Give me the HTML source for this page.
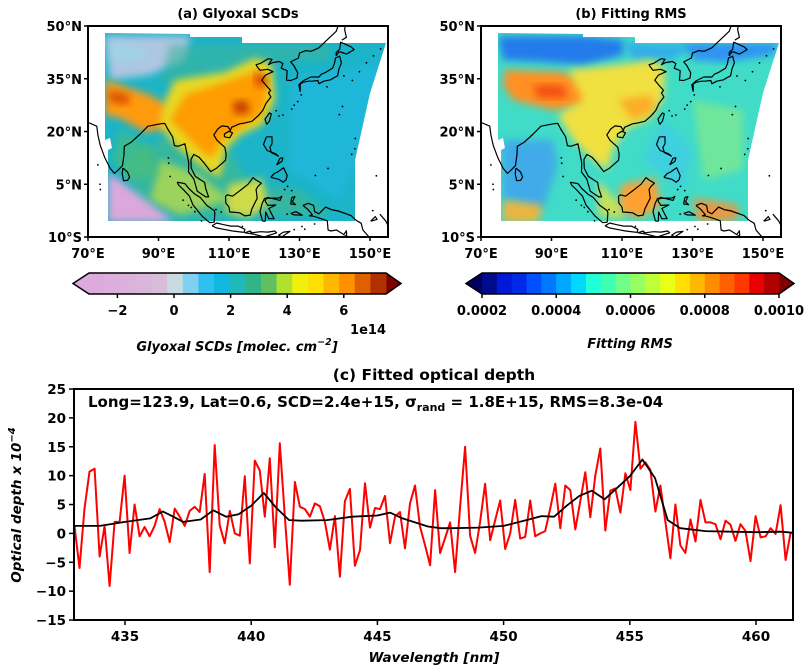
<!DOCTYPE html>
<html><head><meta charset="utf-8">
<style>
html,body{margin:0;padding:0;background:#fff;}
svg{display:block;font-family:"DejaVu Sans","Liberation Sans",sans-serif;}
text{font-weight:bold;}
</style></head>
<body>
<svg id="fig" width="812" height="671" viewBox="0 0 812 671" xmlns="http://www.w3.org/2000/svg">
<defs>
<filter id="blur" x="-20%" y="-20%" width="140%" height="140%"><feGaussianBlur stdDeviation="4"/></filter>
<clipPath id="clipL"><polygon points="105,33 190,34 190,37 242,37 242,43 386,43 370,93 355,160 355,221 108,221 108,150 112,148 110,138 105,140"/></clipPath>
<clipPath id="clipR"><polygon points="498,33 583,34 583,37 635,37 635,43 779,43 763,93 748,160 748,221 501,221 501,150 505,148 503,138 498,140"/></clipPath>
</defs>
<g id="mapL"></g>
<g id="mapR"></g>
<g id="cbars"></g>
<g id="chart"></g>
</svg>
<script>
// ---- chart data ----
const wlStart = 433.0;
const wlStep = 0.1984;
const measured = [1.3,-6.0,4.3,10.7,11.2,-4.0,1.3,-9.1,2.0,2.0,10.0,-3.4,5.0,-0.5,1.1,-0.5,1.3,4.2,2.0,-1.5,4.3,2.9,1.3,3.9,4.6,3.7,10.3,-6.7,15.3,1.4,-1.7,3.9,0.0,-0.4,9.9,-5.2,12.6,10.9,2.9,13.0,-2.4,15.6,3.0,-8.9,8.9,4.6,4.2,2.9,5.2,4.7,2.0,-2.8,3.0,-7.5,5.6,7.7,-5.6,-2.9,8.7,1.0,4.4,4.2,6.5,-1.7,2.9,3.7,-2.6,5.2,8.3,1.2,-2.1,-5.5,7.5,-3.4,-0.8,1.9,-6.7,4.6,15.0,-0.4,-3.4,2.0,8.6,-1.2,2.3,5.7,-2.7,0.0,5.8,-0.9,-0.6,5.7,-0.5,0.0,0.4,4.3,8.6,0.9,8.3,7.5,0.7,5.6,10.6,2.8,10.0,14.7,0.5,7.4,7.8,3.6,10.4,7.5,19.3,11.2,12.3,11.0,3.8,8.3,2.0,-4.3,5.0,-2.1,-3.4,2.4,-1.4,5.8,1.9,1.9,1.6,-1.0,2.2,1.5,-1.3,1.6,0.4,-4.8,3.0,-0.7,-0.5,0.9,-0.1,4.9,-4.6,0.1,0.1];
const fitWl = [433,434,435,436,436.5,437,437.3,438,438.5,439,439.5,440,440.5,441,441.5,442,443,444,445,445.5,446,447,447.5,448,449,450,451,451.5,452,452.5,453,453.5,454,454.5,455,455.5,456,456.5,457,458,459,460,461,461.5];
const fitted = [1.3,1.3,2.0,2.6,3.8,2.7,2.0,2.4,4.0,2.9,3.3,4.8,7.0,4.4,2.3,2.2,2.3,2.9,3.1,3.6,2.6,1.2,0.9,0.9,1.0,1.3,2.4,3.0,2.9,4.8,6.5,7.4,5.9,7.9,9.9,12.8,9.6,2.3,0.9,0.4,0.3,0.2,0.3,0.1];
const yTicks = [-15,-10,-5,0,5,10,15,20,25];
const xTicks = [435,440,445,450,455,460];
const scdTicks = [-2,0,2,4,6];
const rmsTicks = [0.0002,0.0004,0.0006,0.0008,0.0010];
const rmsTickLabels = ["0.0002","0.0004","0.0006","0.0008","0.0010"];

const NS="http://www.w3.org/2000/svg";
function mk(tag,attrs,parent,txt){const e=document.createElementNS(NS,tag);for(const k in attrs)e.setAttribute(k,attrs[k]);if(txt!==undefined)e.textContent=txt;parent.appendChild(e);return e;}

// ---------- Bottom chart ----------
const chart=document.getElementById('chart');
const L=74,R=793,T=389,B=620;
const xS=w=>125+(w-435)*25.24;
const yS=v=>533.4-v*5.775;
let e=mk('text',{x:434,y:380,'text-anchor':'middle','font-size':15.5},chart,'(c) Fitted optical depth');


const cg=mk('g',{'clip-path':'url(#clipC)'},chart);
const cp=mk('clipPath',{id:'clipC'},document.querySelector('defs'));
mk('rect',{x:L,y:T,width:R-L,height:B-T},cp);
let pts=measured.map((v,i)=>xS(wlStart+i*wlStep).toFixed(1)+','+yS(v).toFixed(1)).join(' ');
e=mk('polyline',{points:pts,fill:'none',stroke:'#ff0000','stroke-width':2,'stroke-linejoin':'round'},cg);


pts=fitted.map((v,i)=>xS(fitWl[i]).toFixed(1)+','+yS(v).toFixed(1)).join(' ');
e=mk('polyline',{points:pts,fill:'none',stroke:'#000','stroke-width':1.8,'stroke-linejoin':'round'},cg);


e=mk('rect',{x:L,y:T,width:R-L,height:B-T,fill:'none',stroke:'#000','stroke-width':2},chart);


yTicks.forEach(t=>{const y=yS(t);mk('line',{x1:L-5,x2:L,y1:y,y2:y,stroke:'#000','stroke-width':1.5},chart);
 const tx=mk('text',{x:L-8,y:y+5,'text-anchor':'end','font-size':13.5},chart,t<0?'\u2212'+(-t):String(t));
 
 });
xTicks.forEach(t=>{const x=xS(t);mk('line',{x1:x,x2:x,y1:B,y2:B+5,stroke:'#000','stroke-width':1.5},chart);
 const tx=mk('text',{x:x,y:B+21,'text-anchor':'middle','font-size':13.5},chart,String(t));
 
 });
e=mk('text',{x:434,y:662,'text-anchor':'middle','font-size':13.5,'font-style':'italic'},chart,'Wavelength [nm]');


e=mk('text',{x:0,y:0,'text-anchor':'middle','font-size':13.5,'font-style':'italic',transform:'translate(21,505) rotate(-90)'},chart);


mk('tspan',{},e,'Optical depth x 10');
mk('tspan',{dy:-6,'font-size':10},e,'\u22124');
e=mk('text',{x:88,y:407,'font-size':15},chart);


mk('tspan',{},e,'Long=123.9, Lat=0.6, SCD=2.4e+15, \u03c3');
mk('tspan',{dy:4,'font-size':11},e,'rand');
mk('tspan',{dy:-4},e,' = 1.8E+15, RMS=8.3e-04');

// ---------- Maps ----------
const coast=[
[[70,22.6],[72.5,21.5],[72.8,19],[73.5,16],[74.8,12.5],[76.3,9.5],[77.5,8.1],[78.5,9],[79.8,10.3],[80.2,13.5],[80.3,15.8],[82.3,17],[84.8,19.3],[87,21.5],[88.5,21.8],[90.5,22.2],[91.8,22.3],[92.6,20.7],[94,18.5],[94.5,16],[95.5,15.8],[97.5,16.5],[98,14],[98.6,11],[98.5,8.5],[100,6.5],[101,3],[103.4,1.4],[104.2,1.4],[103.4,3.8],[103.1,5.5],[102,6.2],[100.4,7.3],[99.3,9.5],[99.2,12],[100,13.5],[101.5,12.7],[103,11],[104.8,8.6],[106.5,9.6],[109,11.8],[109.2,13.5],[108.8,15.5],[106.6,17.5],[105.7,19],[106.8,20.7],[108,21.6],[109.7,21.4],[110.4,20.3],[110.7,21.2],[113,22.2],[114.3,22.4],[116.5,22.9],[118.3,24.5],[119.6,26],[120.5,28],[121.9,29.8],[121.2,31],[121.8,31.7],[120.6,33],[119.3,34.6],[120.3,36],[122.5,37],[121,37.7],[118.8,37.4],[118,38.4],[117.7,39],[119,39.4],[121.1,40.7],[122.2,40.5],[121.2,39],[122.3,39.6],[124.3,39.9],[125.3,39.3],[124.8,38],[126.5,37.3],[126.3,34.6],[127.5,34.5],[129.3,35.2],[129.5,36.7],[128.4,38.7],[127.5,39.8],[129.7,40.9],[130,42.3],[131.8,43],[133.3,42.8],[135.5,43.8],[138.3,46.5],[140.4,48.5],[141.3,51]],
[[130.2,31.3],[130.2,33.5],[131,34],[132.5,34.3],[133.5,34.3],[135.2,34.5],[135.5,33.6],[136.9,34.3],[138.8,34.7],[139.8,35.3],[140.8,35.8],[141.2,37.8],[141.9,39.5],[141.4,41.4],[140.2,40.9],[139.9,39.3],[139.4,38],[137.4,36.8],[136.2,36.3],[135.5,35.5],[133.2,35.5],[131,34.4],[129.8,33.3],[130.2,31.3]],
[[140.4,41.5],[141.1,42.6],[141.7,42.6],[143.3,42],[145.5,43.3],[144.6,44.1],[141.7,45.4],[141.4,43.4],[140.4,42.5],[140.4,41.5]],
[[142,46],[143.3,46.8],[142.8,49],[143.2,51]],
[[79.9,9.6],[81.2,8.5],[81.8,7],[81.2,6.1],[80.1,6],[79.7,8],[79.9,9.6]],
[[108.7,18.5],[110.2,18.2],[111,19.6],[110,20.1],[108.7,19.3],[108.7,18.5]],
[[120.7,22],[121.5,23],[122,25],[121.5,25.3],[120.2,23.5],[120.7,22]],
[[120.6,18.5],[122.2,18.5],[122.2,16.5],[121.6,15.5],[122,14],[124,13],[123.2,13.7],[120.8,14.6],[119.8,16.3],[120.6,18.5]],
[[121.9,7],[122.8,8],[123.8,8.5],[125.5,9.7],[126.5,7.5],[126.2,6.3],[125.4,5.6],[124.1,6.4],[122.1,6.9],[121.9,7]],
[[123.5,10.5],[125,11.5],[125.3,12.5],[124.5,12.4],[123.8,11],[123.5,10.5]],
[[95.3,5.6],[97.5,5.2],[98.6,3.8],[100.3,2.2],[101.8,1.3],[103.7,-1],[105.8,-2.5],[106,-3.2],[105.8,-5.8],[104.5,-5.9],[102.3,-4],[101,-2.4],[99.8,-0.9],[98.8,1.6],[97.2,3.3],[95.7,4.8],[95.3,5.6]],
[[105.2,-6.8],[106.5,-6],[108.5,-6.5],[110.5,-6.9],[112.6,-6.9],[114.5,-7.8],[114.3,-8.7],[111,-8.3],[108.5,-7.8],[106.4,-7.4],[105.2,-6.8]],
[[109,1.6],[109.6,2],[111,1.6],[113,3.1],[115.4,5],[116.8,6.9],[117.7,6.2],[119.2,5.3],[118.2,4.4],[117.7,3.5],[118,1],[117.5,0],[116.5,-2],[116,-3.8],[114.5,-4],[113,-3.1],[111.7,-3],[110.2,-2.9],[110,-1.5],[109.1,-0.3],[109,1.6]],
[[119.5,-5.5],[120.3,-5.5],[120.4,-2.9],[121.3,-4.8],[122.8,-4.8],[121.3,-1.9],[123.3,-0.9],[121,-1],[120.2,0.3],[120.9,1.3],[124.5,0.4],[125,1.6],[124.2,1.1],[120.1,1],[119.4,-0.5],[118.8,-2.8],[119.5,-5.5]],
[[127.5,-3.3],[129,-2.8],[130.8,-3.8],[128.5,-3.7],[127.5,-3.3]],
[[131,-1],[132.5,-0.4],[134,-1],[134.3,-2.8],[135.5,-3.4],[137.4,-1.5],[139,-2.2],[141,-2.6],[144.6,-3.9],[146,-5.2],[147.5,-6.1],[148,-8],[150,-10.3]],
[[131,-1],[132.4,-2.2],[133.6,-3.6],[132.8,-4],[133.6,-4],[135,-4.4],[137.9,-5.4],[138.1,-8],[138.9,-8.3],[140.5,-8],[142.6,-9.3],[143.3,-8.2],[143.4,-9.5],[141,-10.5]],
[[114.5,-8.8],[116,-8.3],[116.5,-8.8],[119,-8.5],[121,-8.6],[123,-8.3],[123.5,-8.8],[120,-10],[117,-9.2],[114.5,-8.8]],
[[124,-9.5],[125.5,-8.6],[127.3,-8.4],[125,-9.9],[124,-9.5]],
[[127.8,1.2],[128.7,1.5],[128,0],[128.9,-0.8],[127.5,-0.6],[127.8,1.2]],
[[150.2,-5.5],[152,-5],[151.5,-4.2],[150.2,-5.5]],
[[152.8,-3.5],[154.5,-5.5],[155,-6.5]]
];
const islands=[[92.8,12.5],[92.9,11],[93.3,7.2],[72.8,10.5],[73.4,5],[73.5,3.5],[123.4,25.9],[124.2,24.4],[125.3,24.7],[127.8,26.4],[128.5,27.5],[129.5,28.5],[130.5,30.4],[145.7,15.1],[145.8,18],[144.8,13.5],[134.5,7.5],[138.1,9.5],[151.8,7.4],[150.8,-2.5],[142.2,27.1],[141.3,24.8],[97,0.5],[98.5,-1],[99.3,-1.6],[100.3,-2.8],[102.2,-5.4],[106.3,-2.2],[107.8,-2.9],[113.8,-7],[116.2,-8.6],[130.7,-7],[131.5,-7.8],[134.3,-6.3],[128.5,-7.9],[126.5,-3.5],[125.8,3.5],[126.6,4.4],[127.8,3.2],[137.8,32.7],[142.6,35.8],[145,34.5],[147,37],[149,39.5],[151,41.5],[153,43.5]];
function proj(ox){return p=>[ox+88+(p[0]-70)*3.525,26+(50-p[1])*3.517];}

function blobs(g,list){list.forEach(([col,ptsS,op])=>{mk('polygon',{points:ptsS,fill:col,opacity:op||1,filter:'url(#blur)'},g);});}
function shift(ptsS,dx){return ptsS.split(' ').map(p=>{const[a,b]=p.split(',');return (+a+dx)+','+b;}).join(' ');}

function drawMap(id,ox,title,base,blobList,clipId){
 const g=document.getElementById(id);
 const cl=mk('g',{'clip-path':'url(#'+clipId+')'},g);
 mk('rect',{x:ox+100,y:30,width:300,height:200,fill:base},cl);
 blobs(cl,blobList.map(b=>[b[0],shift(b[1],ox),b[2]]));
 const pr=proj(ox);
 const clip2=mk('clipPath',{id:'fr'+id},document.querySelector('defs'));
 mk('rect',{x:ox+88,y:26,width:300,height:211},clip2);
 const cg2=mk('g',{'clip-path':'url(#fr'+id+')'},g);
 coast.forEach(c=>{const s=c.map(pr).map(p=>p[0].toFixed(1)+','+p[1].toFixed(1)).join(' ');
   const ln=mk('polyline',{points:s,fill:'none',stroke:'#000','stroke-width':1.2,'stroke-linejoin':'round'},cg2);
   
   });
 islands.forEach(p=>{const q=pr(p);mk('circle',{cx:q[0],cy:q[1],r:0.9,fill:'#000'},cg2);});
 const fr=mk('rect',{x:ox+88,y:26,width:300,height:211,fill:'none',stroke:'#000','stroke-width':2},g);
 
 
 const t=mk('text',{x:ox+238,y:18,'text-anchor':'middle','font-size':13},g,title);
 
 
 [[50,'50°N'],[35,'35°N'],[20,'20°N'],[5,'5°N'],[-10,'10°S']].forEach(([la,s])=>{const y=26+(50-la)*3.517;
   mk('line',{x1:ox+84,x2:ox+88,y1:y,y2:y,stroke:'#000','stroke-width':1.5},g);
   const tx=mk('text',{x:ox+82,y:y+5,'text-anchor':'end','font-size':13},g,s);
   
   });
 [[70,'70°E'],[90,'90°E'],[110,'110°E'],[130,'130°E'],[150,'150°E']].forEach(([lo,s])=>{const x=ox+88+(lo-70)*3.525;
   mk('line',{x1:x,x2:x,y1:237,y2:241,stroke:'#000','stroke-width':1.5},g);
   const tx=mk('text',{x:x,y:258,'text-anchor':'middle','font-size':13},g,s);
   
   });
}
const blobsL=[
 ['#c9c9e6','105,36 190,36 185,60 150,75 110,80',0.85],
 ['#9ad8e8','110,40 150,50 140,62 112,60',0.7],
 ['#3cb49a','170,45 330,45 330,60 250,62 200,75 160,85',0.6],
 ['#40b890','190,120 230,150 250,185 300,190 330,215 180,220 140,200 120,165',0.7],
 ['#ff9a10','105,80 150,95 175,110 172,128 145,132 120,118 105,115',1],
 ['#d04000','108,90 130,95 128,105 110,102',0.8],
 ['#e8d820','175,80 225,72 255,58 272,64 275,100 262,125 240,135 225,150 220,178 200,165 175,145 160,125 165,100',1],
 ['#ff9c00','185,95 225,82 258,70 268,90 262,115 240,128 222,140 212,158 200,150 185,135 170,120',1],
 ['#d84000','255,72 268,76 266,88 255,85',0.9],
 ['#c03000','232,103 246,100 250,112 236,115',0.9],
 ['#e0e040','228,185 262,178 268,205 248,218 226,212',0.9],
 ['#c8e040','160,160 200,175 230,200 180,215 150,200',0.7],
 ['#dca8dc','108,172 175,222 108,222',1],
 ['#50c070','120,130 150,145 160,175 130,180 112,160',0.6],
 ['#20b8e0','290,80 386,60 370,140 340,200 290,170',0.7]
];
const blobsR=[
 ['#2070f0','105,36 190,36 230,40 230,55 190,65 150,62 110,60',0.9],
 ['#2a90ff','230,42 300,45 280,60 240,60',0.6],
 ['#2a80ff','290,43 386,43 380,55 330,62 300,60',0.8],
 ['#ff9020','112,70 170,72 200,85 200,105 160,110 120,100 110,85',1],
 ['#f04010','140,85 170,85 175,98 145,98',0.8],
 ['#f0e040','175,70 225,65 260,60 272,70 270,100 255,120 235,128 220,148 215,170 200,160 180,140 165,115 190,100',1],
 ['#ffa020','225,100 258,95 262,110 240,120',0.8],
 ['#40a0f0','108,140 160,140 165,165 150,210 110,200',0.8],
 ['#ffb030','110,200 150,205 145,222 110,222',0.9],
 ['#ffa030','228,185 262,178 268,205 248,218 226,212',1],
 ['#e8e040','205,180 228,205 230,220 205,215',0.8],
 ['#ff9030','300,198 345,205 345,220 305,222',0.9],
 ['#40c8f0','270,120 300,150 290,190 250,160',0.6],
 ['#a0f070','300,100 350,110 350,170 310,180',0.5]
];
drawMap('mapL',0,'(a) Glyoxal SCDs','#1cb4c8',blobsL,'clipL');
drawMap('mapR',393,'(b) Fitting RMS','#40dcc8',blobsR,'clipR');

// ---------- Colorbars ----------
const cb=document.getElementById('cbars');
const scdColors=['#dcaadc','#dcaedc','#dab2da','#dab6da','#d8bcd8','#c8dce0','#80d0f0','#30c0f0','#10b8e0','#20b8b8','#30b488','#60c060','#b0e030','#f0f010','#ffe000','#ffb800','#ff9000','#e06000','#b03000'];
const rmsColors=['#000c8c','#0018d8','#0028e8','#0050ff','#0078ff','#00a8ff','#00d8ff','#20ffd8','#40ffb0','#70ff88','#98ff60','#c0ff38','#e8ff18','#ffe000','#ffb800','#ff8c00','#ff6000','#ff3800','#e80000','#b00000'];
function colorbar(x0,x1,tipL,tipR,cols,cL,cR,name){
 const g=mk('g',{},cb);
 
 
 const w=(x1-x0)/cols.length;
 mk('polygon',{points:`${x0},273 ${tipL},283.5 ${x0},294`,fill:cL},g);
 mk('polygon',{points:`${x1},273 ${tipR},283.5 ${x1},294`,fill:cR},g);
 cols.forEach((c,i)=>mk('rect',{x:x0+i*w,y:273,width:w+0.5,height:21,fill:c},g));
 mk('polygon',{points:`${x0},273 ${x1},273 ${tipR},283.5 ${x1},294 ${x0},294 ${tipL},283.5`,fill:'none',stroke:'#000','stroke-width':1.5},g);
}
colorbar(89,386,73,401,scdColors,'#dcaadc','#800000','scd-colorbar');
colorbar(482,779,466,794,rmsColors,'#000060','#800000','rms-colorbar');
const scdX=v=>174+v*28.3;
scdTicks.forEach(t=>{const x=scdX(t);mk('line',{x1:x,x2:x,y1:294,y2:298,stroke:'#000','stroke-width':1.5},cb);
 const tx=mk('text',{x:x,y:315,'text-anchor':'middle','font-size':13},cb,t<0?'\u2212'+(-t):String(t));
 
 });
const rmsX=v=>482+(v-0.0002)/0.0008*297;
rmsTicks.forEach((t,i)=>{const x=rmsX(t);mk('line',{x1:x,x2:x,y1:294,y2:298,stroke:'#000','stroke-width':1.5},cb);
 const tx=mk('text',{x:x,y:315,'text-anchor':'middle','font-size':13},cb,rmsTickLabels[i]);
 
 });
e=mk('text',{x:386,y:334,'text-anchor':'end','font-size':13},cb,'1e14');


e=mk('text',{x:237,y:351,'text-anchor':'middle','font-size':13,'font-style':'italic'},cb);


mk('tspan',{},e,'Glyoxal SCDs [molec. cm');
mk('tspan',{dy:-6,'font-size':9.5},e,'\u22122');
mk('tspan',{dy:6},e,']');
e=mk('text',{x:630,y:348,'text-anchor':'middle','font-size':13,'font-style':'italic'},cb,'Fitting RMS');


</script>
</body></html>
